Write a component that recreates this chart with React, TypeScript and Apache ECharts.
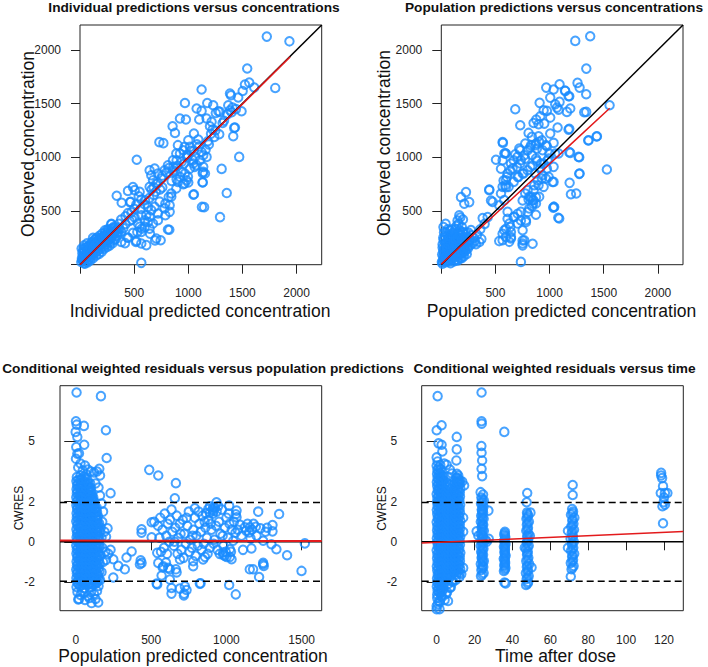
import React, { useEffect, useRef } from "react";
import * as echarts from "echarts";

// ---------- titles & axis labels ----------
const panelTitles = [
  "Individual predictions versus concentrations",
  "Population predictions versus concentrations",
  "Conditional weighted residuals versus population predictions",
  "Conditional weighted residuals versus time",
];
const xTitles = [
  "Individual predicted concentration",
  "Population predicted concentration",
  "Population predicted concentration",
  "Time after dose",
];
const yTitles = ["Observed concentration", "Observed concentration", "CWRES", "CWRES"];

// ---------- ticks ----------
const concTicks = [0, 500, 1000, 1500, 2000];
const concLabels = [500, 1000, 1500, 2000];
const predTicks = [0, 500, 1000, 1500];
const timeTicks = [0, 20, 40, 60, 80, 100, 120];
const cwresTicks = [-2, 0, 2, 5];

// ---------- data: individual predictions (x) vs observed (y) ----------
const ipredObs = [
  [12,25],[18,60],[22,110],[25,40],[30,140],[35,80],[38,15],[42,120],[48,55],[52,160],[55,95],[60,30],[64,130],[68,75],[72,170],[76,110],[80,50],[85,150],[88,95],[92,190],[96,130],[100,70],[104,175],[108,115],[112,210],[116,150],[120,90],[125,190],[130,130],[134,230],[138,170],[142,110],[148,210],[152,150],[156,250],[160,190],[165,130],[170,230],[175,170],[180,270],[185,210],[190,150],[196,250],[200,190],[205,290],[210,225],[216,170],[222,270],[228,210],[234,300],[240,245],[246,190],[252,290],[258,230],[264,320],[270,260],[276,210],[284,300],[292,250],[300,340],[310,280],[318,230],[326,320],
  [15,150],[40,180],[65,200],[45,10],[70,20],[95,40],[120,60],[150,85],[175,100],[200,120],[225,150],[250,165],[275,180],[300,200],[330,240],[345,270],[355,300],[365,330],[290,380],[310,350],[255,330],[230,320],[260,240],[280,270],[140,240],[120,250],
  [20,45],[28,80],[34,115],[46,90],[58,70],[62,160],[74,135],[82,90],[94,160],[102,105],[118,200],[128,160],[144,185],[158,215],[168,165],[182,240],[194,200],[208,260],[220,235],[236,270],[248,215],[262,280],[274,250],[288,330],[298,280],[314,300],[330,350],[340,300],
  [339,642],[385,577],[462,583],[443,687],[489,724],[505,694],[551,678],[542,638],[468,585],[566,607],[597,563],[443,482],[458,408],[289,377],[351,337],[381,305],[437,253],[381,212],[520,221],[566,197],[612,182],[704,244],[745,228],[566,17],[551,352],[529,305],[489,296],[628,398],[720,414],[788,461],[812,328],[788,570],[828,554],[819,631],[843,663],[524,977],[570,335],[647,288],[517,211],[416,201],[447,251],[693,226],[566,461],[597,414],[535,383],[658,508],[689,540],[735,587],[597,352],[643,336],[674,383],[720,477],[781,524],[828,492],[566,305],[474,487],[505,440],[612,461],[643,446],[628,538],[420,380],[400,340],[480,420],[560,520],[600,600],[640,620],[680,650],[520,560],[500,520],[420,450],[380,420],[360,380],[700,680],[740,700],[760,720],[660,700],
  [643,880],[658,833],[689,895],[720,849],[674,787],[643,725],[705,756],[751,802],[781,880],[812,926],[858,973],[889,1035],[904,1113],[966,1097],[997,1019],[1043,973],[1058,911],[935,864],[904,771],[966,756],[997,818],[889,709],[843,632],[1052,656],[1126,538],[846,780],[892,796],[954,749],[1000,765],[733,1141],[770,1132],[855,1289],[877,1227],[923,1361],[978,1352],[969,1506],[1052,1221],[1092,1166],[1000,1159],[1015,1097],[954,1066],[923,1035],[892,973],[985,1019],[1062,1004],[1123,1050],[1138,1019],[1169,1004],[1046,942],[1077,926],[1108,973],[1138,911],[1015,895],[969,849],[985,787],[923,818],[862,911],[877,864],[1138,864],[1077,1454],[1123,1432],[1175,1506],[1230,1485],[1277,1429],[1254,1413],[1292,1423],[1101,1352],[1169,1361],[1215,1330],[1200,1289],[1225,1258],[1317,1320],[1286,1215],[1424,1274],[1123,1631],[1132,768],[1154,849],[1308,892],[1470,1004],[1415,1196],[1431,1277],[1385,1438],[1409,1464],[1369,1485],[1492,1429],[1385,1594],[1394,1578],[1461,1557],[1502,1618],[1523,1677],[1563,1696],[1609,1650],[1544,1827],[1803,1646],[1725,2124],[1934,2080],[1355,667],[1293,443],[1047,651],[1146,536],[1133,766],[1133,853],[825,326],[1100,1100],[1180,1150],[1210,1220],[1250,1250],[1330,1340],[1360,1400],[1400,1420],[1440,1450],[1050,1060],[1080,1120],[1020,1060],[960,940],[1160,1070],[1190,1120],[1240,1190],[800,860],[760,830],[720,760],[680,720],[820,900],[860,880],[900,920],[940,960],[990,1000],
];

// ---------- data: population predictions (x) vs observed (y) ----------
const predObs = [
  [10,10],[15,40],[20,75],[25,110],[30,150],[35,20],[40,55],[45,90],[50,130],[55,170],[60,35],[65,70],[70,105],[75,145],[80,185],[85,15],[90,50],[95,85],[100,120],[105,160],[110,200],[115,30],[120,65],[125,100],[130,140],[135,180],[140,220],[145,45],[150,80],[155,120],[160,160],[165,200],[170,240],[175,60],[180,95],[185,135],[190,175],[195,215],[200,255],[205,110],[210,150],[215,190],[12,190],[22,230],[35,260],[50,210],[70,250],[90,280],[110,300],[130,330],[150,290],[170,320],[190,350],[160,380],[140,360],[120,280],[100,250],[80,230],[60,270],[45,300],[28,60],[48,100],[68,30],[88,160],[108,90],[128,40],[148,190],[168,100],[188,60],[208,80],[225,130],[240,170],[255,210],[235,100],[18,130],[38,200],[58,240],[78,120],[98,200],[118,240],[138,260],[158,230],[178,280],[198,300],[218,250],[166,459],[182,629],[212,567],[258,583],[228,676],[200,420],[150,410],[175,440],
  [5,25],[8,95],[12,160],[18,250],[25,300],[32,35],[42,75],[52,150],[62,190],[72,60],[82,95],[92,135],[102,175],[112,215],[122,120],[132,80],[142,160],[152,40],[162,120],[172,180],[182,210],[192,120],[202,200],[212,130],[222,170],[232,210],[245,150],[20,350],[40,380],[60,330],[80,320],[100,330],[130,240],[150,250],[170,280],[190,240],[205,300],[225,300],[240,260],[260,230],
  [280,273],[351,211],[311,220],[382,434],[428,443],[274,322],[300,250],[330,280],[370,240],[250,300],[265,180],[320,190],[290,200],[443,700],[459,598],[400,380],[360,330],
  [566,1143],[597,1035],[566,973],[720,1081],[704,1004],[735,973],[766,1019],[797,1066],[828,1113],[874,1128],[904,1144],[935,1066],[966,1113],[997,1035],[981,973],[920,942],[874,988],[843,926],[797,880],[751,849],[704,818],[658,895],[643,942],[612,849],[597,787],[566,725],[551,663],[581,601],[535,554],[474,585],[443,694],[612,492],[674,446],[628,383],[704,383],[781,414],[812,523],[843,601],[874,570],[904,632],[812,632],[797,694],[858,740],[889,787],[935,833],[966,802],[1027,771],[1043,538],[1089,430],[751,321],[581,321],[597,259],[643,244],[566,228],[628,213],[735,26],[751,197],[766,228],[735,492],
  [1237,2084],[1375,2127],[1339,1826],[1258,1693],[1277,1649],[1338,1587],[1092,1680],[1037,1631],[969,1649],[1145,1618],[1175,1569],[1006,1556],[908,1507],[1052,1494],[1092,1516],[1068,1463],[975,1432],[945,1438],[914,1382],[877,1351],[852,1320],[898,1308],[951,1314],[1006,1370],[1083,1444],[1191,1454],[1160,1423],[1338,1423],[683,1448],[729,1299],[806,1227],[837,1190],[898,1196],[929,1159],[1006,1221],[1074,1277],[1175,1258],[1037,1134],[868,1112],[883,1081],[821,1091],[775,1128],[729,1066],[683,1029],[569,1134],[582,1035],[975,1103],[1052,1035],[991,988],[945,942],[883,967],[837,1019],[775,988],[729,942],[698,911],[668,973],[637,880],[606,818],[591,740],[622,725],[668,771],[714,818],[760,849],[821,911],[868,849],[914,895],[975,895],[1037,911],[1083,1035],[1191,1041],[1268,1004],[1360,1159],[1437,1196],[1529,886],[1277,849],[1185,762],[1197,656],[1246,663],[1037,538],[945,725],[898,740],[852,694],[806,607],[852,600],[837,545],[775,663],[1037,771],[929,802],[991,818],[1554,1485],
  [535,220],[643,304],[637,350],[643,257],[751,226],[751,180],[843,195],[797,490],[782,397],[874,465],[849,567],[874,629],[828,635],[612,428],[597,335],[566,288],[668,443],[705,474],[735,412],[751,598],[505,977],[551,893],[590,1038],[597,722],[575,784],[1080,437],[1034,530],[1182,1048],[1182,1265],[1142,1621],[1182,1569],[1274,1001],[1274,846],[1434,1194],[1357,1156],[1320,1420],
];

// ---------- data: CWRES vs population predictions ----------
const cwresPredBlock = [
  [4,-2.25],[27,-2.2],[55,-2.3],[78,-2.15],[101,-2.25],[125,-2.1],
  [8,-2.0],[32,-1.95],[50,-2.05],[74,-1.98],[97,-2.02],[120,-1.9],[140,-2.0],
  [3,-1.8],[26,-1.75],[53,-1.82],[79,-1.7],[102,-1.78],[126,-1.8],[148,-1.72],
  [6,-1.58],[30,-1.55],[56,-1.6],[73,-1.5],[99,-1.57],[121,-1.52],[144,-1.6],
  [2,-1.38],[28,-1.32],[51,-1.4],[77,-1.35],[104,-1.3],[128,-1.38],[150,-1.3],
  [7,-1.18],[33,-1.12],[54,-1.2],[80,-1.1],[96,-1.15],[123,-1.08],[146,-1.18],
  [4,-0.98],[25,-0.92],[49,-1.0],[76,-0.95],[100,-0.9],[127,-0.98],[151,-0.92],
  [9,-0.78],[31,-0.72],[57,-0.8],[72,-0.7],[103,-0.76],[119,-0.72],[143,-0.8],
  [3,-0.58],[29,-0.52],[52,-0.6],[78,-0.55],[98,-0.5],[125,-0.58],[149,-0.52],
  [6,-0.38],[34,-0.32],[55,-0.4],[74,-0.35],[101,-0.3],[122,-0.38],[145,-0.3],
  [2,-0.18],[27,-0.12],[50,-0.2],[79,-0.15],[97,-0.1],[128,-0.18],[152,-0.12],
  [8,0.02],[31,0.08],[57,0.0],[75,0.05],[104,0.1],[120,0.02],[147,0.08],
  [4,0.22],[26,0.28],[53,0.2],[80,0.25],[99,0.3],[126,0.22],[150,0.28],
  [7,0.42],[33,0.48],[49,0.4],[73,0.45],[102,0.5],[123,0.42],[144,0.48],
  [3,0.62],[28,0.68],[56,0.6],[77,0.65],[96,0.7],[127,0.62],[148,0.68],
  [9,0.82],[30,0.88],[52,0.8],[74,0.85],[103,0.9],[121,0.82],[145,0.88],
  [2,1.02],[34,1.08],[55,1.0],[79,1.05],[98,1.1],[124,1.02],[142,1.08],
  [6,1.22],[27,1.28],[50,1.2],[76,1.25],[101,1.3],[128,1.22],[146,1.28],
  [4,1.42],[32,1.48],[57,1.4],[72,1.45],[97,1.5],[120,1.42],[140,1.48],
  [8,1.62],[29,1.68],[53,1.6],[78,1.65],[104,1.7],[125,1.62],[138,1.7],
  [3,1.82],[26,1.88],[51,1.8],[75,1.85],[99,1.9],[122,1.82],
  [7,2.02],[33,2.08],[56,2.0],[80,2.05],[102,2.1],[118,2.02],
  [2,2.22],[28,2.28],[54,2.2],[73,2.25],[96,2.3],[115,2.22],
  [6,2.42],[31,2.48],[50,2.4],[77,2.45],[100,2.5],
  [4,2.62],[27,2.68],[55,2.6],[79,2.65],[98,2.7],
  [8,2.82],[33,2.88],[52,2.8],[74,2.85],[95,2.9],
  [3,3.02],[29,3.08],[57,3.0],[76,3.1],
  [6,3.22],[30,3.3],[53,3.25],[70,3.35],
  [16,-2.1],[40,-2.12],[64,-2.08],[88,-2.1],[112,-2.14],[136,-2.06],
  [14,-1.9],[42,-1.88],[62,-1.92],[90,-1.9],[110,-1.86],[134,-1.92],[152,-1.88],
  [18,-1.7],[38,-1.72],[66,-1.68],[86,-1.7],[114,-1.66],[138,-1.72],
  [12,-1.5],[44,-1.48],[60,-1.52],[92,-1.5],[108,-1.46],[132,-1.5],[156,-1.48],
  [16,-1.3],[40,-1.28],[64,-1.32],[88,-1.3],[112,-1.26],[136,-1.3],
  [14,-1.1],[42,-1.08],[62,-1.12],[90,-1.1],[110,-1.06],[134,-1.1],[158,-1.08],
  [18,-0.9],[38,-0.88],[66,-0.92],[86,-0.9],[114,-0.86],[138,-0.9],
  [12,-0.7],[44,-0.68],[60,-0.72],[92,-0.7],[108,-0.66],[132,-0.7],[156,-0.68],
  [16,-0.5],[40,-0.48],[64,-0.52],[88,-0.5],[112,-0.46],[136,-0.5],
  [14,-0.3],[42,-0.28],[62,-0.32],[90,-0.3],[110,-0.26],[134,-0.3],[158,-0.28],
  [18,-0.1],[38,-0.08],[66,-0.12],[86,-0.1],[114,-0.06],[138,-0.1],
  [12,0.1],[44,0.12],[60,0.08],[92,0.1],[108,0.14],[132,0.1],[156,0.12],
  [16,0.3],[40,0.32],[64,0.28],[88,0.3],[112,0.34],[136,0.3],
  [14,0.5],[42,0.52],[62,0.48],[90,0.5],[110,0.54],[134,0.5],[158,0.52],
  [18,0.7],[38,0.72],[66,0.68],[86,0.7],[114,0.74],[138,0.7],
  [12,0.9],[44,0.92],[60,0.88],[92,0.9],[108,0.94],[132,0.9],[154,0.92],
  [16,1.1],[40,1.12],[64,1.08],[88,1.1],[112,1.14],[136,1.1],
  [14,1.3],[42,1.32],[62,1.28],[90,1.3],[110,1.34],[134,1.3],
  [18,1.5],[38,1.52],[66,1.48],[86,1.5],[114,1.54],[132,1.5],
  [12,1.7],[44,1.72],[60,1.68],[92,1.7],[108,1.74],[128,1.7],
  [16,1.9],[40,1.92],[64,1.88],[88,1.9],[110,1.94],
  [14,2.1],[42,2.12],[62,2.08],[90,2.1],[108,2.14],
  [18,2.3],[38,2.32],[66,2.28],[86,2.3],[106,2.34],
  [12,2.5],[44,2.52],[60,2.48],[90,2.5],
  [16,2.7],[40,2.72],[64,2.68],[88,2.7],
  [14,2.9],[42,2.92],[62,2.88],[84,2.9],
  [18,3.1],[40,3.12],[64,3.15],
];
const cwresPredScatter = [
  [10,-2.5],[30,-2.65],[55,-2.55],[80,-2.7],[100,-2.5],[120,-2.6],[20,-2.85],[60,-2.9],[90,-2.8],[40,-2.45],[130,-2.85],[15,-2.87],[104,-3.05],[148,-3.02],[140,-2.45],[150,-2.2],
  [4,7.43],[166,7.25],[0,6.0],[5,5.83],[53,5.77],[-2,5.47],[9,5.22],[199,5.55],[55,4.83],[2,4.72],[9,4.38],[0,4.13],[204,4.17],[155,3.63],[230,2.42],[210,0.67],[20,4.4],[30,3.9],[60,3.8],[80,3.6],[100,3.5],[15,3.7],[45,3.55],[120,3.45],[140,3.5],[160,3.3],[130,2.9],[150,2.7],[160,2.3],[170,1.9],[180,1.5],[175,1.0],[165,0.7],[170,0.2],[175,-0.3],[165,-0.7],[180,-1.0],[170,-1.5],[160,-1.9],[190,0.5],[195,-0.5],[200,-0.9],[215,-0.6],[230,-0.4],[200,0.25],
  [487,3.58],[547,3.3],[664,2.92],[657,2.17],[436,0.62],[436,0.45],[430,-0.92],[436,-1.05],[540,-0.55],[547,-1.05],[536,-2.08],[569,-1.68],[580,-1.22],[613,-1.3],[624,-1.88],[635,-2.3],[635,-2.58],[719,-2.58],[724,-2.22],[669,-1.52],[691,-0.88],[779,-0.97],[779,-1.22],[823,-2.08],[845,-0.88],[857,-0.75],[503,0.97],[503,0.22],[540,-2.12],[598,-1.03],[576,-1.28],[624,-1.37],[664,-1.37],[690,-2.33],[717,-2.67],[735,-2.4],[370,-0.48],[336,-0.78],[325,-1.37],[281,-1.2],[248,-0.87],[248,-1.78],[425,-1.12],
  [520,1.0],[545,0.8],[560,1.2],[575,0.6],[590,1.4],[600,0.3],[610,0.9],[625,1.1],[640,0.5],[650,-0.2],[660,0.7],[670,1.3],[680,0.2],[690,0.9],[700,-0.4],[710,1.1],[720,0.4],[730,-0.1],[740,0.8],[750,1.5],[760,0.1],[770,-0.3],[780,0.6],[790,1.2],[800,0.3],[810,-0.2],[820,0.9],[830,0.5],[840,1.3],[850,-0.1],[860,0.7],[870,0.2],[880,1.1],[890,-0.3],[900,0.6],[910,1.4],[920,0.1],[930,0.8],[940,-0.4],[950,1.0],[960,0.4],[970,1.6],[980,-0.2],[990,0.7],[1000,1.2],[1010,0.2],[1020,0.9],[1030,-0.5],[1045,0.05],[1050,1.0],[1060,0.45],[1075,0.6],[555,0.2],[565,-0.5],[585,-0.3],[605,-0.6],[620,0.0],[635,1.6],[655,0.0],[675,-0.6],[695,0.4],[715,-0.8],[735,1.2],[755,-0.5],[775,0.3],[795,-0.7],[815,1.5],[835,-0.4],[855,1.0],[875,-0.6],[895,0.9],[915,-0.1],[935,1.5],[955,-0.6],[975,0.3],[995,-0.5],[1015,1.4],[1035,0.6],
  [790,1.67],[934,1.97],[890,1.77],[912,1.72],[863,1.42],[879,1.63],[907,1.6],[1018,1.8],[1067,1.55],[1067,1.22],[1211,1.5],[1350,1.38],[1306,0.83],[1306,0.52],[1226,0.67],[1122,0.72],[1155,0.72],[1151,0.47],[1160,0.17],[1244,0.05],[1299,-0.12],[1332,-0.37],[1403,-0.67],[1521,-0.08],[1166,-0.33],[1155,-1.37],[1177,-1.37],[1244,-1.12],[1248,-1.2],[1217,-1.75],[1499,-1.45],[1018,-2.15],[1062,-2.62],[828,-2.07],[978,-0.53],[989,-0.7],[1023,-0.37],[1034,-0.87],[1001,-0.75],[1023,-0.75],[978,-0.65],[1244,-1.05],[1062,1.37],[945,1.78],[923,1.7],[912,1.53],[890,1.45],[1130,0.55],[1180,0.9],[1200,0.3],[1100,0.3],[1110,-0.4],[1090,0.85],[1140,0.9],[1170,0.6],[1195,0.75],[1260,0.5],[1270,0.7],
];

// ---------- data: CWRES vs time after dose ----------
const cwresTimeEarly = [
  [0.3,-2.62],[1.8,-2.55],[0.5,-2.42],[2.1,-2.38],[3.5,-2.35],[0.1,-2.22],[1.7,-2.18],[3.8,-2.15],[0.4,-2.02],[2.0,-1.98],[3.4,-1.95],[0.2,-1.82],[1.9,-1.78],[3.7,-1.75],[0.6,-1.62],[1.6,-1.58],[3.5,-1.55],[0.3,-1.42],[2.2,-1.38],[3.9,-1.35],[0.1,-1.22],[1.8,-1.18],[3.6,-1.15],[0.5,-1.02],[2.0,-0.98],[3.3,-0.95],[0.2,-0.82],[1.7,-0.78],[3.8,-0.75],[0.4,-0.62],[2.1,-0.58],[3.5,-0.55],[0.0,-0.42],[1.9,-0.38],[3.7,-0.35],[0.6,-0.22],[1.6,-0.18],[3.4,-0.15],[0.3,-0.02],[2.2,0.02],[3.9,0.05],[0.1,0.18],[1.8,0.22],[3.6,0.25],[0.5,0.38],[2.0,0.42],[3.3,0.45],[0.2,0.58],[1.7,0.62],[3.8,0.65],[0.4,0.78],[2.1,0.82],[3.5,0.85],[0.0,0.98],[1.9,1.02],[3.7,1.05],[0.6,1.18],[1.6,1.22],[3.4,1.25],[0.3,1.38],[2.2,1.42],[3.9,1.45],[0.1,1.58],[1.8,1.62],[3.6,1.65],[0.5,1.78],[2.0,1.82],[3.3,1.85],[0.2,1.98],[1.7,2.02],[3.8,2.05],[0.4,2.18],[2.1,2.22],[3.5,2.25],[0.0,2.38],[1.9,2.42],[3.7,2.45],[0.6,2.58],[1.6,2.62],[3.4,2.65],[0.3,2.78],[2.2,2.82],[3.9,2.85],[0.1,2.98],[1.8,3.02],[3.6,3.05],[0.5,3.18],[2.0,3.22],[3.3,3.25],[0.2,3.38],[1.7,3.42],[0.4,3.58],[2.1,3.62],[0.0,3.78],[1.9,3.82],
  [1.1,-2.5],[2.8,-2.48],[1.0,-2.3],[2.9,-2.28],[1.2,-2.1],[2.7,-2.08],[1.0,-1.9],[2.8,-1.88],[1.1,-1.7],[2.9,-1.68],[1.2,-1.5],[2.7,-1.48],[1.0,-1.3],[2.8,-1.28],[1.1,-1.1],[2.9,-1.08],[1.2,-0.9],[2.7,-0.88],[1.0,-0.7],[2.8,-0.68],[1.1,-0.5],[2.9,-0.48],[1.2,-0.3],[2.7,-0.28],[1.0,-0.1],[2.8,-0.08],[1.1,0.1],[2.9,0.12],[1.2,0.3],[2.7,0.32],[1.0,0.5],[2.8,0.52],[1.1,0.7],[2.9,0.72],[1.2,0.9],[2.7,0.92],[1.0,1.1],[2.8,1.12],[1.1,1.3],[2.9,1.32],[1.2,1.5],[2.7,1.52],[1.0,1.7],[2.8,1.72],[1.1,1.9],[2.9,1.92],[1.2,2.1],[2.7,2.12],[1.0,2.3],[2.8,2.32],[1.1,2.5],[2.9,2.52],[1.2,2.7],[2.7,2.72],[1.0,2.9],[2.8,2.92],[1.1,3.1],[2.9,3.12],[1.2,3.3],[2.7,3.32],[1.0,3.5],[1.1,3.7],
  [0.3,-2.8],[1.2,-2.95],[0.6,-3.1],[2.5,-2.7],[0.0,-3.35],
  [5.2,-1.82],[6.9,-1.78],[5.5,-1.62],[7.2,-1.58],[8.6,-1.55],[5.1,-1.42],[6.8,-1.38],[8.9,-1.35],[5.4,-1.22],[7.1,-1.18],[8.5,-1.15],[5.3,-1.02],[6.9,-0.98],[8.8,-0.95],[5.6,-0.82],[7.3,-0.78],[8.6,-0.75],[5.0,-0.62],[6.7,-0.58],[8.9,-0.55],[5.4,-0.42],[7.0,-0.38],[8.4,-0.35],[5.2,-0.22],[7.2,-0.18],[8.7,-0.15],[5.5,-0.02],[6.8,0.02],[8.9,0.05],[5.1,0.18],[7.1,0.22],[8.5,0.25],[5.3,0.38],[6.9,0.42],[8.8,0.45],[5.6,0.58],[7.3,0.62],[8.6,0.65],[5.0,0.78],[6.7,0.82],[8.9,0.85],[5.4,0.98],[7.0,1.02],[8.4,1.05],[5.2,1.18],[7.2,1.22],[8.7,1.25],[5.5,1.38],[6.8,1.42],[8.9,1.45],[5.1,1.58],[7.1,1.62],[8.5,1.65],[5.3,1.78],[6.9,1.82],[8.8,1.85],[5.6,1.98],[7.3,2.02],[8.6,2.05],[5.0,2.18],[6.7,2.22],[8.9,2.25],[5.4,2.38],[7.0,2.42],[5.2,2.58],[7.2,2.62],[5.5,2.78],[6.8,2.82],[5.1,2.98],
  [6.1,-1.7],[7.8,-1.68],[6.0,-1.5],[7.9,-1.48],[6.2,-1.3],[7.7,-1.28],[6.0,-1.1],[7.8,-1.08],[6.1,-0.9],[7.9,-0.88],[6.2,-0.7],[7.7,-0.68],[6.0,-0.5],[7.8,-0.48],[6.1,-0.3],[7.9,-0.28],[6.2,-0.1],[7.7,-0.08],[6.0,0.1],[7.8,0.12],[6.1,0.3],[7.9,0.32],[6.2,0.5],[7.7,0.52],[6.0,0.7],[7.8,0.72],[6.1,0.9],[7.9,0.92],[6.2,1.1],[7.7,1.12],[6.0,1.3],[7.8,1.32],[6.1,1.5],[7.9,1.52],[6.2,1.7],[7.7,1.72],[6.0,1.9],[7.8,1.92],[6.1,2.1],[7.9,2.12],[6.2,2.3],[7.7,2.32],[6.0,2.5],[6.1,2.7],[6.2,2.9],
  [6.0,-2.1],[7.5,-2.25],[5.5,-2.5],[8,-1.95],
  [10.4,-1.62],[12.1,-1.55],[10.7,-1.42],[12.4,-1.35],[10.3,-1.22],[12.0,-1.15],[10.6,-1.02],[12.3,-0.95],[10.5,-0.82],[12.2,-0.75],[10.8,-0.62],[12.5,-0.55],[10.2,-0.42],[11.9,-0.35],[10.6,-0.22],[12.3,-0.15],[10.4,-0.02],[12.1,0.05],[10.7,0.18],[12.4,0.25],[10.3,0.38],[12.0,0.45],[10.6,0.58],[12.3,0.65],[10.5,0.78],[12.2,0.85],[10.8,0.98],[12.5,1.05],[10.2,1.18],[11.9,1.25],[10.6,1.38],[12.3,1.45],[10.4,1.58],[12.1,1.65],[10.7,1.78],[12.4,1.85],[10.3,1.98],[12.0,2.05],[10.6,2.18],[12.3,2.25],[10.5,2.38],[12.2,2.45],[10.8,2.58],[12.5,2.65],[10.2,2.78],[11.9,2.85],[10.6,2.98],[12.3,3.05],[10.4,3.18],[10.7,3.38],
  [9.6,-1.5],[11.4,-1.48],[9.5,-1.3],[11.3,-1.28],[9.7,-1.1],[11.5,-1.08],[9.6,-0.9],[11.4,-0.88],[9.5,-0.7],[11.3,-0.68],[9.7,-0.5],[11.5,-0.48],[9.6,-0.3],[11.4,-0.28],[9.5,-0.1],[11.3,-0.08],[9.7,0.1],[11.5,0.12],[9.6,0.3],[11.4,0.32],[9.5,0.5],[11.3,0.52],[9.7,0.7],[11.5,0.72],[9.6,0.9],[11.4,0.92],[9.5,1.1],[11.3,1.12],[9.7,1.3],[11.5,1.32],[9.6,1.5],[11.4,1.52],[9.5,1.7],[11.3,1.72],[9.7,1.9],[11.5,1.92],[9.6,2.1],[11.4,2.12],[9.5,2.3],[11.3,2.32],[9.7,2.5],[11.5,2.52],[9.6,2.7],[11.4,2.72],[9.5,2.9],[11.3,2.92],[11.5,3.12],[11.4,3.3],
  [0.5,7.25],[0,5.55],[2.6,5.8],[2.6,4.83],[0,4.2],[0.5,4.0],[10.6,5.22],[10.6,4.6],[10.4,4.05],[5.3,3.83],[5.8,3.25],[10.7,3.2],[12.3,2.9],[11.5,3.05],[0,-3.2],[1.7,-3.0],[4.2,-2.9],[6,-2.95],[1.5,-3.35],[2.8,-2.75],[5,-2.6],[7,-2.3],[8.5,-2.0],[10,-1.9],[12,-1.75],[13,-1.6],[14,-1.3],[14,0.5],[14,1.2],[14.5,2.8],[13.5,3.0],[7,3.6],[8,3.4],[3,4.5],[1,4.9],[4,3.9],
];
const cwresTimeLate = [
  [23.4,-1.7],[24.8,-1.55],[23.6,-1.4],[24.6,-1.25],[23.3,-1.1],[24.9,-0.95],[23.7,-0.8],[24.5,-0.65],[23.5,-0.5],[24.7,-0.35],[23.2,-0.2],[24.8,-0.05],[23.6,0.1],[24.4,0.25],[23.4,0.4],[24.9,0.55],[23.7,0.7],[24.6,0.85],[23.3,1.0],[24.8,1.15],[23.5,1.3],[24.5,1.45],[23.8,1.6],[24.7,1.75],[23.4,1.9],[24.9,2.05],[23.6,2.2],[24.2,-1.0],[24.0,0.0],[24.1,0.9],[23.9,-0.6],[24.3,1.6],[25.8,0.1],[26.5,0.0],[27.5,0.15],[22,0.3],
  [24.1,-1.62],[24.0,-1.32],[24.2,-1.18],[24.1,-0.88],[24.0,-0.72],[24.2,-0.42],[24.1,-0.28],[24.0,-0.12],[24.2,0.18],[24.1,0.32],[24.0,0.48],[24.2,0.62],[24.1,0.78],[24.0,1.08],[24.2,1.22],[24.1,1.38],[24.0,1.52],[24.2,1.82],[24.1,1.98],[24.0,2.12],
  [23.7,7.43],[23.7,6.0],[23.8,5.88],[23.6,4.77],[23.7,4.43],[24,4.05],[23.7,3.63],[24,3.27],[23.2,2.47],[24.5,2.35],[27.3,1.55],[21.1,0.52],[35.7,5.47],
  [35.5,-1.45],[36.3,-1.3],[35.7,-1.15],[36.1,-1.0],[35.4,-0.85],[36.4,-0.7],[35.8,-0.55],[36.0,-0.4],[35.5,-0.25],[36.3,-0.1],[35.6,0.05],[36.2,0.2],[35.7,0.35],[36.0,0.5],[35.8,-2.03],[36.4,-2.07],
  [36.0,-1.38],[35.9,-1.22],[36.1,-1.08],[35.9,-0.92],[36.0,-0.78],[36.1,-0.62],[35.9,-0.48],[36.0,-0.32],[36.1,-0.18],[35.9,-0.02],[36.0,0.12],[36.1,0.28],[35.9,0.42],
  [47.2,-2.15],[48.3,-2.0],[47.5,-1.85],[48.6,-1.7],[47.1,-1.55],[48.2,-1.4],[47.6,-1.25],[48.8,-1.1],[47.3,-0.95],[48.4,-0.8],[47.7,-0.65],[48.1,-0.5],[47.2,-0.35],[48.6,-0.2],[47.5,-0.05],[48.3,0.1],[47.8,0.25],[48.5,0.4],[47.3,0.55],[48.2,0.7],[47.6,0.85],[48.7,1.0],[47.4,1.15],[48.3,1.3],[47.7,1.45],[49.5,1.45],[47.8,2.43],[47.5,1.97],[50.1,-1.28],[46.5,-0.3],[49.2,0.3],
  [48.0,-2.08],[47.9,-1.78],[48.0,-1.48],[47.9,-1.18],[48.0,-0.88],[47.9,-0.58],[48.0,-0.28],[47.9,0.02],[48.0,0.32],[47.9,0.62],[48.0,0.92],[47.9,1.22],[48.0,1.38],
  [71.2,-1.37],[72.3,-1.2],[70.8,-1.05],[72.0,-0.9],[71.5,-0.75],[72.6,-0.6],[70.9,-0.45],[72.1,-0.3],[71.4,-0.15],[72.4,0.0],[70.7,0.15],[71.9,0.3],[71.3,0.45],[72.5,0.6],[71.0,0.75],[72.2,0.9],[71.6,1.05],[72.7,1.2],[70.9,1.35],[72.0,1.5],[71.5,1.63],[69.3,0.55],[69.3,-0.3],[71.8,2.83],[71.8,2.33],[70.8,-1.73],
  [71.7,-1.28],[71.6,-0.98],[71.8,-0.68],[71.7,-0.38],[71.6,-0.08],[71.8,0.22],[71.7,0.52],[71.6,0.82],[71.8,1.12],[71.7,1.42],
  [118.5,3.43],[119,3.17],[119.5,2.77],[118.3,2.43],[120.5,2.43],[121.8,2.43],[120,2.2],[119.8,1.97],[119.2,1.77],[120.5,1.85],[119.5,0.92],[118.5,3.3],
];

// ---------- reference / smooth lines ----------
const concRange = [0, 2232];
const predRange = [-106, 1633];
const timeRange = [-7.9, 130.2];
const cwresRange = [-3.43, 7.77];
const ipredSmooth = [[0, 0], [1940, 1935]];
const predSmooth = [[0, 5], [300, 285], [600, 565], [900, 845], [1200, 1125], [1555, 1457]];
const cwresPredSmooth = [[-106, 0.06], [1633, 0.04]];
const cwresTimeSmooth = [[-7.9, -0.06], [130.2, 0.51]];
const ciLimit = 1.96;

const FONT = '"Liberation Sans", Arial, Helvetica, sans-serif';
const BLUE = "#1a8cff";
const RED = "#e31a1c";
const INK = "#222";

function axis(gridIndex: number, range: number[], ticks: number[], labels: number[], o: any) {
  return {
    type: "value",
    gridIndex,
    min: range[0],
    max: range[1],
    offset: o.offset,
    axisLine: { show: false },
    splitLine: { show: false },
    axisTick: { show: true, length: o.tick, customValues: ticks, lineStyle: { color: INK, width: 1 } },
    axisLabel: {
      customValues: labels,
      formatter: (v: number) => String(v),
      margin: o.margin,
      fontSize: 12,
      color: INK,
      fontFamily: FONT,
    },
  };
}

export default function App() {
  const ref = useRef<HTMLDivElement>(null);
  useEffect(() => {
    if (!ref.current) return;
    const chart = echarts.init(ref.current, undefined, { renderer: "svg" });
    const grids = [
      { left: 80, top: 25, width: 241.7, height: 239.7 },
      { left: 441.3, top: 25, width: 241.7, height: 239.7 },
      { left: 60, top: 385.7, width: 261.7, height: 225 },
      { left: 421.7, top: 385.7, width: 261.6, height: 225 },
    ].map((g) => ({ ...g, show: true, borderColor: INK, borderWidth: 1, backgroundColor: "transparent" }));

    const xo = { offset: 3, tick: 9, margin: 19 };
    const yo = { offset: 3, tick: 9, margin: 16 };
    const xAxis = [
      axis(0, concRange, concTicks, concLabels, xo),
      axis(1, concRange, concTicks, concLabels, xo),
      axis(2, predRange, predTicks, predTicks, { offset: 4, tick: 8.5, margin: 19 }),
      axis(3, timeRange, timeTicks, timeTicks, { offset: 4, tick: 8.5, margin: 19 }),
    ];
    const yAxis = [
      axis(0, concRange, concTicks, concLabels, yo),
      axis(1, concRange, concTicks, concLabels, yo),
      axis(2, cwresRange, cwresTicks, cwresTicks, { offset: 10, tick: 11.7, margin: 15 }),
      axis(3, cwresRange, cwresTicks, cwresTicks, { offset: 2.7, tick: 10, margin: 21.7 }),
    ];

    const scatter = (i: number, data: number[][]) => ({
      type: "scatter",
      xAxisIndex: i,
      yAxisIndex: i,
      data,
      symbol: "circle",
      symbolSize: 8.5,
      silent: true,
      large: false,
      progressive: 0,
      itemStyle: { color: "rgba(0,0,0,0)", borderColor: BLUE, borderWidth: 2 },
      z: 2,
    });
    const line = (i: number, data: number[][], color: string, width: number, type: any = "solid") => ({
      type: "line",
      xAxisIndex: i,
      yAxisIndex: i,
      data,
      symbol: "none",
      showSymbol: false,
      silent: true,
      lineStyle: { color, width, type },
      z: 3,
    });
    const dash = [7, 4];

    const series = [
      scatter(0, ipredObs),
      line(0, [[concRange[0], concRange[0]], [concRange[1], concRange[1]]], "#000", 1.5),
      line(0, ipredSmooth, RED, 1.5),
      scatter(1, predObs),
      line(1, [[concRange[0], concRange[0]], [concRange[1], concRange[1]]], "#000", 1.5),
      line(1, predSmooth, RED, 1.5),
      scatter(2, cwresPredBlock.concat(cwresPredScatter)),
      line(2, [[predRange[0], 0], [predRange[1], 0]], "#000", 1.5),
      line(2, cwresPredSmooth, RED, 2),
      line(2, [[predRange[0], ciLimit], [predRange[1], ciLimit]], "#000", 1.5, dash),
      line(2, [[predRange[0], -ciLimit], [predRange[1], -ciLimit]], "#000", 1.5, dash),
      scatter(3, cwresTimeEarly.concat(cwresTimeLate)),
      line(3, [[timeRange[0], 0], [timeRange[1], 0]], "#000", 1.5),
      line(3, cwresTimeSmooth, RED, 1.5),
      line(3, [[timeRange[0], ciLimit], [timeRange[1], ciLimit]], "#000", 1.5, dash),
      line(3, [[timeRange[0], -ciLimit], [timeRange[1], -ciLimit]], "#000", 1.5, dash),
    ];

    const txt = (text: string, x: number, y: number, font: string, rot = 0) => ({
      type: "text",
      x,
      y,
      rotation: rot,
      silent: true,
      style: {
        text,
        font,
        fill: "#111",
        align: "center",
        verticalAlign: "middle",
        textAlign: "center",
        textVerticalAlign: "middle",
      },
    });
    const titleFont = `bold 13.7px ${FONT}`;
    const axFont = `17.5px ${FONT}`;
    const smallFont = `12px ${FONT}`;
    const graphic = [
      txt(panelTitles[0], 194, 7.5, titleFont),
      txt(panelTitles[1], 554, 7.5, titleFont),
      txt(panelTitles[2], 203, 368, titleFont),
      txt(panelTitles[3], 554.5, 368, titleFont),
      txt(xTitles[0], 200, 311, axFont),
      txt(xTitles[1], 561.5, 311, axFont),
      txt(xTitles[2], 193, 655.5, axFont),
      txt(xTitles[3], 555.5, 655.5, axFont),
      txt(yTitles[0], 27.5, 144, axFont, Math.PI / 2),
      txt(yTitles[1], 384.3, 143, axFont, Math.PI / 2),
      txt(yTitles[2], 19, 508, smallFont, Math.PI / 2),
      txt(yTitles[3], 381.5, 508.5, smallFont, Math.PI / 2),
    ];

    chart.setOption({
      animation: false,
      backgroundColor: "#fff",
      grid: grids,
      xAxis,
      yAxis,
      series,
      graphic,
    });
    return () => chart.dispose();
  }, []);
  return (
    <div
      ref={ref}
      style={{ position: "absolute", left: 0, top: 0, width: 708, height: 667 }}
    />
  );
}
